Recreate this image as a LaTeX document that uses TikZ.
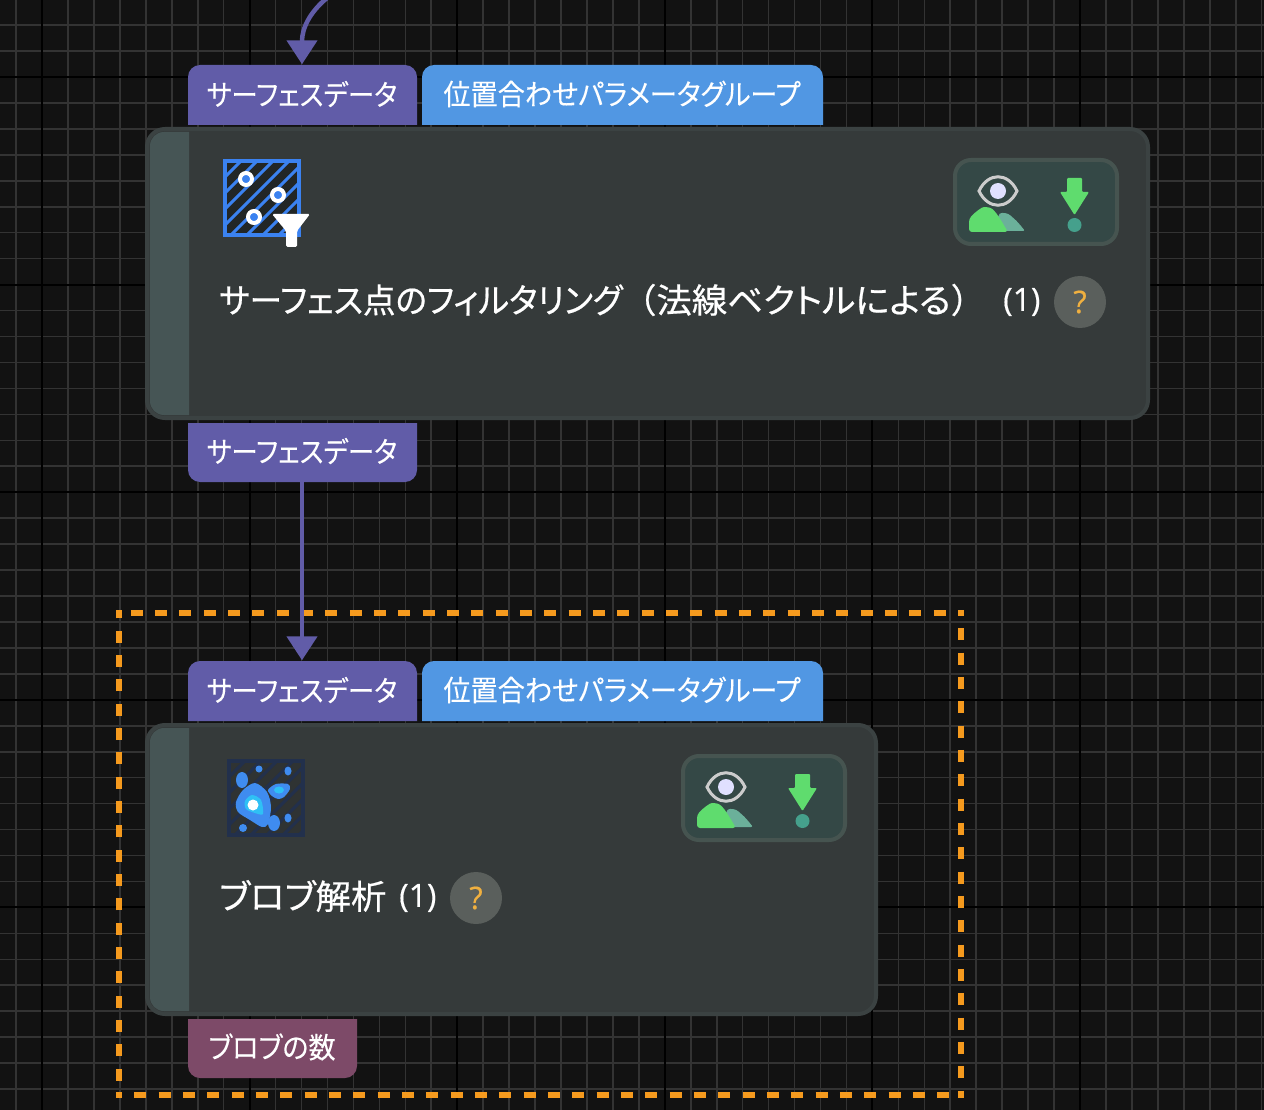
\documentclass[tikz,border=0pt]{standalone}
\usepackage{fontspec}
\usepackage{graphicx}
\setmainfont{Open Sans}
\newfontfamily\jpfont[RawFeature=+palt,FakeStretch=0.935,FakeBold=0.1]{Noto Sans CJK JP}
\newfontfamily\jpnarrow[RawFeature=+palt,FakeStretch=0.91,FakeBold=0.1]{Noto Sans CJK JP}
\newfontfamily\jptitle[RawFeature=+palt,FakeBold=0.6]{Noto Sans CJK JP}
\newfontfamily\jpparen[FakeBold=0.6]{Noto Sans CJK JP}
\newfontfamily\countfont[FakeBold=0.4]{Open Sans}
\usetikzlibrary{arrows.meta}
\definecolor{canvasbg}{HTML}{121212}
\definecolor{gridfine}{HTML}{333333}
\definecolor{cardbg}{HTML}{353A3A}
\definecolor{cardedge}{HTML}{3B4242}
\definecolor{cardstrip}{HTML}{465555}
\definecolor{portsurf}{HTML}{615CA8}
\definecolor{portreg}{HTML}{5197E3}
\definecolor{portblob}{HTML}{7D4A68}
\definecolor{selorange}{HTML}{F59A1E}
\definecolor{iconblue}{HTML}{3B82F0}
\definecolor{blobblue}{HTML}{3F8CF0}
\definecolor{blobcyan}{HTML}{2FC0F5}
\definecolor{blobframe}{HTML}{22304C}
\definecolor{btnfill}{HTML}{344846}
\definecolor{btnedge}{HTML}{465450}
\definecolor{okgreen}{HTML}{5FDC6E}
\definecolor{okteal}{HTML}{6BB09A}
\definecolor{dotteal}{HTML}{45A08C}
\definecolor{helpfill}{HTML}{5A5F5C}
\definecolor{helpmark}{HTML}{F0B040}
\tikzset{
  porttext/.style={text=white,font=\jpfont\fontsize{29}{29}\selectfont,inner sep=0pt,minimum height=59pt},
  titletext/.style={text=white,font=\jptitle\fontsize{34}{34}\selectfont,inner sep=0pt,anchor=west},
  counttext/.style={text=white,font=\countfont\fontsize{32}{32}\selectfont,inner sep=0pt,anchor=west},
  helpdot/.style={circle,fill=helpfill,minimum size=52pt,inner sep=0pt,text=helpmark,font=\countfont\fontsize{31}{31}\selectfont},
  card/.style={fill=cardbg,draw=cardedge,line width=4pt,rounded corners=18pt},
  wire/.style={draw=portsurf,line width=4.5pt,-{Triangle[width=30pt,length=24pt]}},
  seledge/.style={draw=selorange,line width=6pt,dash pattern=on 12pt off 12.33pt},
  viewbtn/.pic={
    \draw[fill=btnfill,draw=btnedge,line width=4pt,rounded corners=16pt] (-81,-42) rectangle (81,42);
    % eye
    \draw[draw=black!20!white,line width=3pt] (-57,-11) .. controls (-48,-30) and (-28,-30) .. (-19,-11)
      .. controls (-28,8) and (-48,8) .. cycle;
    \fill[blue!12!white] (-38,-11) circle (8);
    % hills
    \fill[okteal,rounded corners=2pt] (-38,29) -- (-38,13) .. controls (-34,10) and (-28,11) .. (-24,15)
      .. controls (-19,19) and (-15,24) .. (-11,29) -- cycle;
    \fill[okgreen,rounded corners=3pt] (-67,30) -- (-67,17) .. controls (-61,10) and (-54,5) .. (-49,5)
      .. controls (-41,7) and (-34,20) .. (-28,30) -- cycle;
    % arrow
    \fill[okgreen,rounded corners=1pt] (31,-24) -- (46,-24) -- (46,-10) -- (53,-10) -- (38.5,13) -- (24,-10) -- (31,-10) -- cycle;
    \fill[dotteal] (38.5,23) circle (7);
  }
}
\begin{document}
\begin{tikzpicture}[x=1pt,y=-1pt]
  \useasboundingbox (0,0) rectangle (1264,1110);
  \clip (0,0) rectangle (1264,1110);
  \fill[canvasbg] (0,0) rectangle (1264,1110);
  % grid
  \foreach \i in {0,...,48} \draw[gridfine,line width=1.6pt] ({16.05+\i*25.95},0) -- ++(0,1110);
  \foreach \i in {0,...,42} \draw[gridfine,line width=1.6pt] (0,{25.1+\i*25.95}) -- ++(1264,0);
  \foreach \i in {0,...,5} \draw[black,line width=2pt] ({42+\i*207.6},0) -- ++(0,1110);
  \foreach \i in {0,...,4} \draw[black,line width=2pt] (0,{77+\i*207.6}) -- ++(1264,0);

  % selection frame
  \draw[seledge,dash phase=9.55pt] (116,613) -- (964,613);
  \draw[seledge,dash phase=6pt] (961,610) -- (961,1098);
  \draw[seledge,dash phase=6pt] (116,1095) -- (964,1095);
  \draw[seledge,dash phase=8pt] (119,1097) -- (119,610);

  % upper card
  \path[card] (147,129) rectangle (1148,418);
  \fill[cardstrip,rounded corners=14pt] (189,132) -- (150,132) -- (150,415) -- (189,415);
  \fill[portsurf,rounded corners=12pt] (188,125) -- (188,65) -- (417,65) -- (417,125);
  \fill[portreg,rounded corners=12pt] (422,125) -- (422,65) -- (823,65) -- (823,125);
  \fill[portsurf,rounded corners=12pt] (188,423) -- (188,482) -- (417,482) -- (417,423);
  \node[porttext,font=\jpnarrow\fontsize{29}{29}\selectfont,minimum width=229pt] (surfinA) at (302,94) {サーフェスデータ};
  \node[porttext,minimum width=401pt] (regA)     at (622,94) {位置合わせパラメータグループ};
  \node[porttext,font=\jpnarrow\fontsize{29}{29}\selectfont,minimum width=229pt] (surfout) at (302,451) {サーフェスデータ};
  % filter icon
  \fill[black!35!cardbg] (224,160) rectangle (300,236);
  \begin{scope}
    \clip (224,160) rectangle (300,236);
    \foreach \i in {0,...,9} \draw[iconblue,line width=3pt] ({150+\i*16},236) -- ++(76,-76);
  \end{scope}
  \draw[iconblue,line width=4pt] (224.5,161) rectangle (299,235.5);
  \foreach \cx/\cy in {246/179,278/195,254/217}
    \draw[fill=iconblue,draw=white,line width=4pt] (\cx,\cy) circle (6);
  \fill[white,rounded corners=1.5pt] (272,214) -- (310,214) -- (297,231) -- (297,247) -- (286,247) -- (286,231) -- cycle;
  \pic at (1036,202) {viewbtn};
  \node[titletext] (titleA) at (219,300) {\scalebox{.957}[1]{サーフェス点のフィルタリング}{\jpparen （}\scalebox{1.04}[1]{法線ベクトルによる}{\jpparen ）}};
  \node[counttext] (countA) at (1003,302) {(1)};
  \node[helpdot]   (helpA)  at (1080,302) {?};

  % lower card
  \path[card] (147,725) rectangle (876,1014);
  \fill[cardstrip,rounded corners=14pt] (189,728) -- (150,728) -- (150,1011) -- (189,1011);
  \fill[portsurf,rounded corners=12pt] (188,721) -- (188,661) -- (417,661) -- (417,721);
  \fill[portreg,rounded corners=12pt] (422,721) -- (422,661) -- (823,661) -- (823,721);
  \fill[portblob,rounded corners=12pt] (188,1019) -- (188,1078) -- (357,1078) -- (357,1019);
  \node[porttext,font=\jpnarrow\fontsize{29}{29}\selectfont,minimum width=229pt] (surfinB) at (302,690) {サーフェスデータ};
  \node[porttext,minimum width=401pt] (regB)     at (622,690) {位置合わせパラメータグループ};
  \node[porttext,minimum width=169pt] (blobout)  at (272,1047) {ブロブの数};
  % blob icon
  \fill[black!12!cardbg] (228,760) rectangle (304,836);
  \begin{scope}
    \clip (228,760) rectangle (304,836);
    \foreach \i in {0,...,9} \draw[blobframe,line width=3pt] ({154+\i*16},836) -- ++(76,-76);
  \end{scope}
  \draw[blobframe,line width=4pt] (229,761) rectangle (303,835);
  \fill[blobblue] plot[smooth cycle] coordinates {(255,783) (267,792) (271,807) (268,824) (262,827) (250,820) (238,812) (236,802) (243,790)};
  \fill[blobcyan] plot[smooth cycle] coordinates {(252,795) (261,800) (263,814) (255,813) (246,809) (245,801)};
  \fill[white] (253,805) circle (5.5);
  \fill[blobblue] plot[smooth cycle] coordinates {(268,790) (276,784) (288,784) (290,789) (284,797) (278,799) (272,796)};
  \fill[blobcyan] (279,790) ellipse (5 and 3.5);
  \fill[blobblue] (242,780) ellipse (6 and 8);
  \fill[blobblue] (259,769) circle (3.5);
  \fill[blobblue] (288,771) ellipse (3.5 and 4.5);
  \fill[blobblue] (274,823) ellipse (6 and 8);
  \fill[blobblue] (288,818) ellipse (3.5 and 4.5);
  \fill[blobblue] (243,828) circle (4);
  \pic at (764,798) {viewbtn};
  \node[titletext] (titleB) at (219,896) {\scalebox{1.04}[1]{ブロブ解析}};
  \node[counttext] (countB) at (399,898) {(1)};
  \node[helpdot]   (helpB)  at (476,898) {?};

  % connectors
  \coordinate (offtop) at (327,-2);
  \draw[wire] (offtop) .. controls (310,12) and (302,28) .. (surfinA.north);
  \draw[wire] (surfout.south) -- (surfinB.north);
\end{tikzpicture}
\end{document}
